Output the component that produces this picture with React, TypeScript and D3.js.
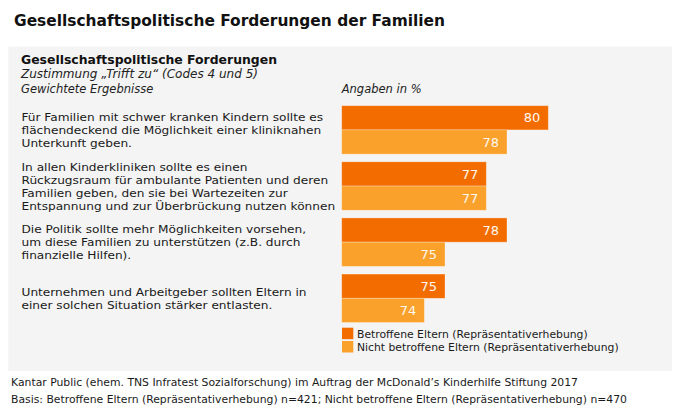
import React from "react";
import * as d3 from "d3";

const categories: string[][] = [
  ["Für Familien mit schwer kranken Kindern sollte es", "flächendeckend die Möglichkeit einer kliniknahen", "Unterkunft geben."],
  ["In allen Kinderkliniken sollte es einen", "Rückzugsraum für ambulante Patienten und deren", "Familien geben, den sie bei Wartezeiten zur", "Entspannung und zur Überbrückung nutzen können"],
  ["Die Politik sollte mehr Möglichkeiten vorsehen,", "um diese Familien zu unterstützen (z.B. durch", "finanzielle Hilfen)."],
  ["Unternehmen und Arbeitgeber sollten Eltern in", "einer solchen Situation stärker entlasten."],
];
const seriesNames = ["Betroffene Eltern (Repräsentativerhebung)", "Nicht betroffene Eltern (Repräsentativerhebung)"];
const betroffene = [80, 77, 78, 75];
const nichtBetroffene = [78, 77, 75, 74];
const seriesColors = ["#F36C00", "#F9A12B"];

const title = "Gesellschaftspolitische Forderungen der Familien";
const subTitle = "Gesellschaftspolitische Forderungen";
const subLine1 = "Zustimmung „Trifft zu“ (Codes 4 und 5)";
const subLine2 = "Gewichtete Ergebnisse";
const unitLabel = "Angaben in %";
const footer1 = "Kantar Public (ehem. TNS Infratest Sozialforschung) im Auftrag der McDonald’s Kinderhilfe Stiftung 2017";
const footer2 = "Basis: Betroffene Eltern (Repräsentativerhebung) n=421; Nicht betroffene Eltern (Repräsentativerhebung) n=470";

const FONT = "'DejaVu Sans', Verdana, sans-serif";

export default function App() {
  const W = 680, H = 412;
  const series = [betroffene, nichtBetroffene];
  const idx = categories.map((_, i) => i);
  const y = d3.scaleBand<number>().domain(idx).range([105.7, 322.5]).paddingInner(0.137).paddingOuter(0);
  const ySub = d3.scaleBand<number>().domain([0, 1]).range([0, y.bandwidth()]).padding(0);
  const x = d3.scaleLinear().domain([70, 80]).range([341.7, 548.3]);
  const lineH = 12.9;
  const labelX = 21.5;
  const sx = 1.105;

  return (
    <svg width={W} height={H} style={{ position: "absolute", left: 0, top: 0, display: "block" }} fontFamily={FONT}>
      <rect x={0} y={0} width={W} height={H} fill="#ffffff" />
      <text x={14} y={26} fontSize={15.2} fontWeight="bold" fill="#111" textLength={431} lengthAdjust="spacingAndGlyphs">{title}</text>
      <rect x={8.3} y={46.5} width={663.7} height={324.5} fill="#F4F4F4" />
      <text x={21} y={63.5} fontSize={12.3} fontWeight="bold" fill="#111" textLength={256} lengthAdjust="spacingAndGlyphs">{subTitle}</text>
      <text x={21} y={77.7} fontSize={11.5} fontStyle="italic" fill="#222" textLength={237} lengthAdjust="spacingAndGlyphs">{subLine1}</text>
      <text x={21} y={92.7} fontSize={11.5} fontStyle="italic" fill="#222">{subLine2}</text>
      <text x={x(70)} y={92.7} fontSize={11.5} fontStyle="italic" fill="#222">{unitLabel}</text>

      {idx.map((i) => {
        const cy = (y(i) as number) + y.bandwidth() / 2;
        const lines = categories[i];
        const n = lines.length;
        return (
          <g key={"c" + i}>
            <g transform={`translate(${labelX},0) scale(${sx},1)`}>
              {lines.map((ln, j) => (
                <text key={j} x={0} y={cy + (j - (n - 1) / 2) * lineH + 4.2} fontSize={11} fill="#1a1a1a">{ln}</text>
              ))}
            </g>
            {series.map((vals, s) => {
              const by = (y(i) as number) + (ySub(s) as number);
              const bh = ySub.bandwidth();
              const x0 = x(70);
              const x1 = x(vals[i]);
              return (
                <g key={s}>
                  <rect x={x0} y={by} width={x1 - x0} height={bh} fill={seriesColors[s]} stroke="rgba(255,255,255,0.35)" strokeWidth={0.8} />
                  <text x={x1 - 8} y={by + bh / 2 + 4.6} textAnchor="end" fontSize={13} fill="#FFF8EE">{vals[i]}</text>
                </g>
              );
            })}
          </g>
        );
      })}

      {seriesNames.map((name, s) => (
        <g key={"l" + s}>
          <rect x={342} y={327.7 + s * 13.3} width={11.3} height={11.5} fill={seriesColors[s]} />
          <text x={357} y={337.6 + s * 13.5} fontSize={10.8} fill="#1a1a1a">{name}</text>
        </g>
      ))}

      <text x={11} y={386} fontSize={11} fill="#1a1a1a" textLength={567} lengthAdjust="spacingAndGlyphs">{footer1}</text>
      <text x={11} y={403} fontSize={11} fill="#1a1a1a" textLength={616} lengthAdjust="spacingAndGlyphs">{footer2}</text>
    </svg>
  );
}
